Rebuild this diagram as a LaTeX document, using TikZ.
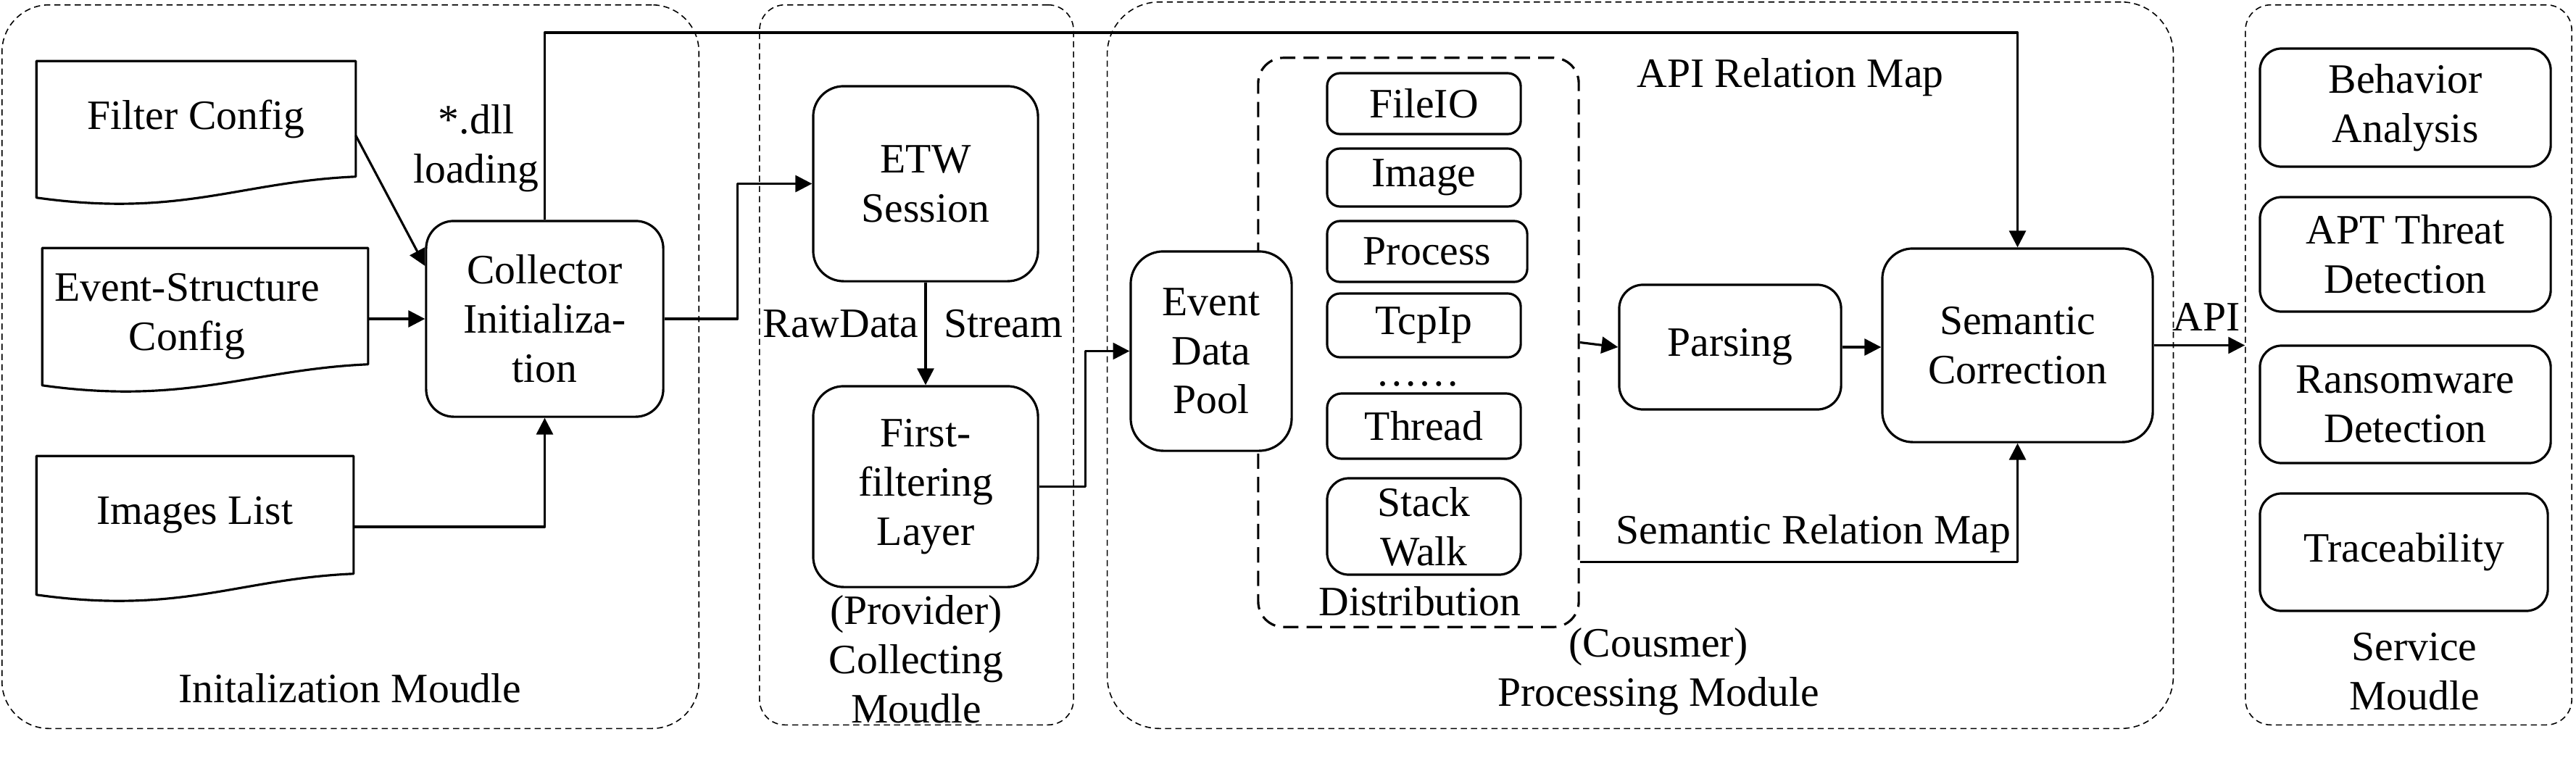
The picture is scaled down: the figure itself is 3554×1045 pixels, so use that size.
\documentclass[tikz,border=0pt]{standalone}
\usepackage{fontspec}
\setmainfont{Liberation Serif}
\usetikzlibrary{arrows.meta,calc}
\begin{document}
\begin{tikzpicture}[x=0.01cm,y=-0.01cm,
  font=\fontsize{16.4}{19.3}\selectfont,
  line join=round,
  rbox/.style={draw, line width=0.9pt, rounded corners=#1, align=center, inner sep=1pt, fill=white},
  rbox/.default=0.35cm,
  module/.style={draw, line width=0.45pt, dash pattern=on 2.4pt off 1.6pt, rounded corners=#1, inner sep=0pt},
  module/.default=0.4cm,
  docnode/.style={inner sep=0pt, align=center},
  conn/.style={line width=0.9pt, -{Triangle[length=6.5pt,width=6.5pt]}},
  plain/.style={line width=0.9pt},
  lbl/.style={align=center, inner sep=0pt}]

\useasboundingbox (0,0) rectangle (3554,1045);

% module frames
\node[module=0.65cm, minimum width=9.61cm, minimum height=9.98cm] (initmod) at (483.5,506) {};
\node[module=0.35cm, minimum width=4.33cm, minimum height=9.93cm] (collmod) at (1264.5,503.5) {};
\node[module=0.72cm, minimum width=14.70cm, minimum height=10.02cm] (procmod) at (2263,504) {};
\node[module=0.35cm, minimum width=4.50cm, minimum height=9.93cm] (servmod) at (3323,503.5) {};

% distribution frame
\node[draw, line width=0.9pt, dash pattern=on 6pt off 3.2pt, rounded corners=0.35cm,
      minimum width=4.42cm, minimum height=7.85cm, inner sep=0pt] (dist) at (1957,472.5) {};

% documents
\node[docnode, minimum width=4.39cm, minimum height=1.58cm] (filter) at (270.5,164) {Filter Config};
\node[docnode, minimum width=4.48cm, minimum height=1.59cm] (evstruct) at (283,422.5) {};
\node[docnode, minimum width=4.36cm, minimum height=1.61cm] (images) at (269,710.5) {Images List};
\foreach \n in {filter,evstruct,images}
  \draw[plain] (\n.north west) -- (\n.north east) -- (\n.south east)
    .. controls ($(\n.south east)+(-160,7)$) and ($(\n.south west)+(199,57)$) .. ($(\n.south west)+(0,29)$) -- cycle;
\node[lbl] (evtext) at (258,437) {Event-Structure\\Config};

% process boxes
\node[rbox=0.38cm, minimum width=3.27cm, minimum height=2.70cm] (collector) at (751.5,440) {Collector\\Initializa-\\tion};
\node[rbox=0.42cm, minimum width=3.10cm, minimum height=2.69cm] (etw) at (1277,253.5) {ETW\\Session};
\node[rbox=0.42cm, minimum width=3.10cm, minimum height=2.77cm] (first) at (1277,671.5) {First-\\filtering\\Layer};
\node[rbox=0.45cm, minimum width=2.22cm, minimum height=2.75cm] (pool) at (1671,484.5) {Event\\Data\\Pool};

\node[rbox=0.18cm, minimum width=2.67cm, minimum height=0.84cm] (fileio) at (1964.5,143) {FileIO};
\node[rbox=0.18cm, minimum width=2.67cm, minimum height=0.80cm] (image) at (1964.5,245) {Image};
\node[rbox=0.18cm, minimum width=2.76cm, minimum height=0.84cm] (process) at (1969,347) {Process};
\node[rbox=0.18cm, minimum width=2.67cm, minimum height=0.88cm] (tcpip) at (1964.5,449) {TcpIp};
\node[lbl] (dots) at (1956,530) {……};
\node[rbox=0.2cm, minimum width=2.67cm, minimum height=0.90cm] (thread) at (1964.5,588) {Thread};
\node[rbox=0.3cm, minimum width=2.67cm, minimum height=1.33cm] (stack) at (1964.5,726.5) {Stack\\Walk};
\node[lbl] (distlbl) at (1959,830) {Distribution};

\node[rbox=0.33cm, minimum width=3.06cm, minimum height=1.72cm] (parsing) at (2387,479) {Parsing};
\node[rbox=0.42cm, minimum width=3.73cm, minimum height=2.67cm] (sc) at (2783.5,476.5) {Semantic\\Correction};

\node[rbox=0.3cm, minimum width=4.01cm, minimum height=1.63cm] (behav) at (3318.5,148.5) {Behavior\\Analysis};
\node[rbox=0.3cm, minimum width=4.01cm, minimum height=1.58cm] (apt) at (3318.5,351) {APT Threat\\Detection};
\node[rbox=0.3cm, minimum width=4.01cm, minimum height=1.62cm] (ransom) at (3318.5,558) {Ransomware\\Detection};
\node[rbox=0.3cm, minimum width=3.97cm, minimum height=1.62cm] (trace) at (3316.5,762) {Traceability};

% connectors
\draw[conn] ([yshift=-0.23cm]filter.east) -- ([yshift=0.73cm]collector.west);
\draw[conn] (collector.west -| evstruct.east) -- (collector.west);
\draw[conn] ([yshift=-0.165cm]images.east) -| (collector.south);
\draw[conn] (collector.east) -- ++(101,0) |- (etw.west);
\coordinate (apitop) at (2783.5,45);
\draw[conn] (collector.north) |- (apitop) -- (sc.north);
\draw[conn] (etw) -- (first);
\draw[conn] (first.east) -- ++(64,0) |- (pool.west);
\draw[conn] (dist.east) -- (parsing.west);
\draw[conn] (parsing.east) -- (parsing.east -| sc.west);
\draw[conn] ([yshift=-3.025cm]dist.east) -| (sc.south);
\draw[conn] (sc.east) -- (sc.east -| servmod.west);

% labels
\node[lbl] (dll) at (657,205) {*.dll\\loading};
\node[lbl, anchor=east] (rawdata) at (1268,447) {RawData};
\node[lbl, anchor=west] (stream) at (1302,447) {Stream};
\node[lbl] (apimap) at (2470,107) {API Relation Map};
\node[lbl] (semmap) at (2502,737) {Semantic Relation Map};
\node[lbl] (apilbl) at (3044,437) {API};

\node[lbl] (initlbl) at (483,950) {Initalization Moudle};
\node[lbl] (colllbl) at (1264,910) {(Provider)\\Collecting\\Moudle};
\node[lbl] (proclbl) at (2288,927) {(Cousmer)\\Processing Module};
\node[lbl] (servlbl) at (3331,927) {Service\\Moudle};
\end{tikzpicture}
\end{document}
